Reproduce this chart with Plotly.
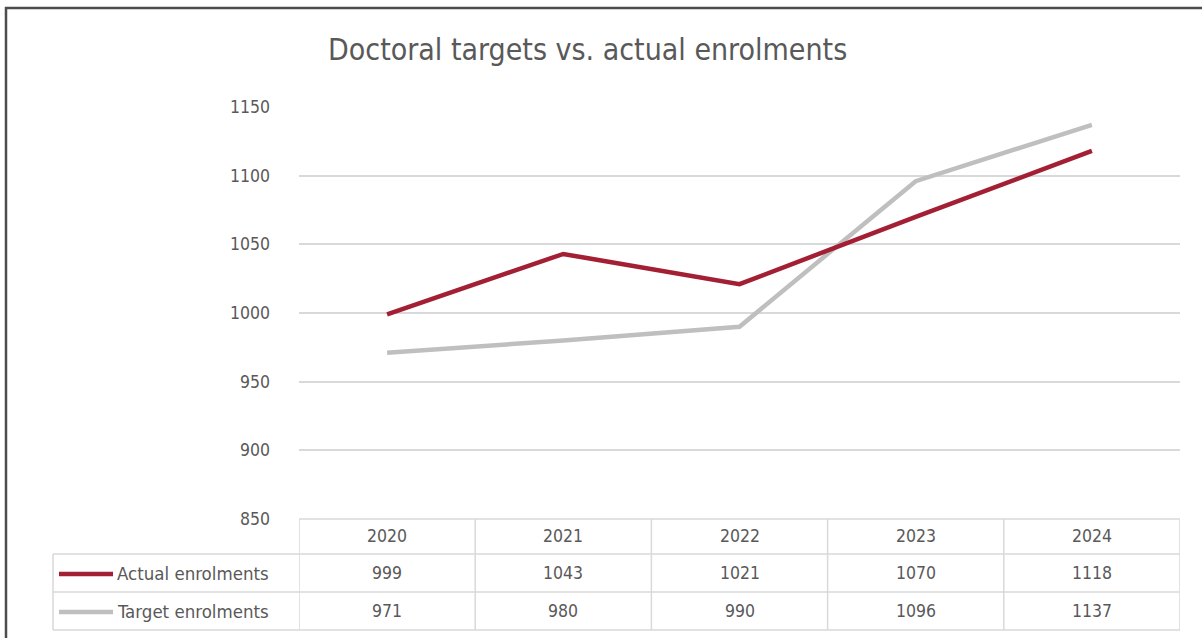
import plotly.graph_objects as go

years = ["2020", "2021", "2022", "2023", "2024"]
actual = [999, 1043, 1021, 1070, 1118]
target = [971, 980, 990, 1096, 1137]
series_names = ["Actual enrolments", "Target enrolments"]
series_colors = ["#A31F34", "#BFBFBF"]
y_ticks = [850, 900, 950, 1000, 1050, 1100, 1150]

W, H = 1202, 638
L, R, T, B = 299, 1180, 107, 519
pw, ph = R - L, B - T

def px_x(p):
    return (p - L) / pw

def px_y(p):
    return (B - p) / ph

FONT = "DejaVu Sans Condensed, Liberation Sans Narrow, Arial Narrow, sans-serif"
TXT = "#595959"
GRID = "#D9D9D9"

xs = list(range(len(years)))
fig = go.Figure()
for name, vals, col in [(series_names[1], target, series_colors[1]),
                        (series_names[0], actual, series_colors[0])]:
    fig.add_trace(go.Scatter(x=xs, y=vals, mode="lines", name=name,
                             line=dict(color=col, width=4.5), showlegend=False,
                             hoverinfo="skip"))

shapes = []
ann = []

def text(x, y, s, size, xref="paper", xanchor="center"):
    ann.append(dict(x=x, y=y, xref=xref, yref="paper", text=s, showarrow=False,
                    xanchor=xanchor, yanchor="middle",
                    font=dict(family=FONT, size=size, color=TXT)))

row_top, row1, row2, row_bot = 519, 554, 592, 630
shapes.append(dict(type="line", xref="paper", yref="paper", x0=0, x1=1,
                   y0=px_y(row_top), y1=px_y(row_top), line=dict(color=GRID, width=1.5)))
for yy in [row1, row2, row_bot]:
    shapes.append(dict(type="line", xref="paper", yref="paper", x0=px_x(53), x1=1,
                       y0=px_y(yy), y1=px_y(yy), line=dict(color=GRID, width=1.5)))
for i in range(len(years) + 1):
    xb = i - 0.5
    shapes.append(dict(type="line", xref="x", yref="paper", x0=xb, x1=xb,
                       y0=px_y(row_top), y1=px_y(row_bot), line=dict(color=GRID, width=1.5)))
shapes.append(dict(type="line", xref="paper", yref="paper", x0=px_x(53), x1=px_x(53),
                   y0=px_y(row1), y1=px_y(row_bot), line=dict(color=GRID, width=1.5)))

for i, yr in enumerate(years):
    text(i, px_y(536), yr, 17.5, xref="x")
for r, (name, vals, col) in enumerate([(series_names[0], actual, series_colors[0]),
                                       (series_names[1], target, series_colors[1])]):
    yc = [573, 611][r]
    for i, v in enumerate(vals):
        text(i, px_y(yc), str(v), 17.5, xref="x")
    text(px_x(115), px_y(yc), name, 18.5, xanchor="left")
    shapes.append(dict(type="line", xref="paper", yref="paper", x0=px_x(59), x1=px_x(113),
                       y0=px_y(yc + 1), y1=px_y(yc + 1), line=dict(color=col, width=4.5)))

shapes.append(dict(type="line", xref="paper", yref="paper", x0=px_x(6), x1=px_x(6),
                   y0=px_y(7), y1=px_y(640), line=dict(color="#4D4D4D", width=2.5)))
shapes.append(dict(type="line", xref="paper", yref="paper", x0=px_x(5), x1=px_x(1204),
                   y0=px_y(8), y1=px_y(8), line=dict(color="#4D4D4D", width=2.5)))

text(px_x(587), px_y(50), "Doctoral targets vs. actual enrolments", 30)

fig.update_layout(
    width=W, height=H,
    margin=dict(l=L, r=W - R, t=T, b=H - B, pad=0),
    paper_bgcolor="white", plot_bgcolor="white",
    shapes=shapes, annotations=ann,
    xaxis=dict(range=[-0.5, len(years) - 0.5], showticklabels=False, showgrid=False,
               zeroline=False, showline=False, fixedrange=True),
    yaxis=dict(range=[850, 1150], tickvals=y_ticks, showgrid=True, gridcolor=GRID,
               gridwidth=1.5, zeroline=False, showline=False, ticks="",
               ticklabelstandoff=28,
               tickfont=dict(family=FONT, size=17.5, color=TXT), fixedrange=True),
)

fig.write_html("out.html", config={"displayModeBar": False},
               post_script="document.body.style.margin='0';document.body.style.overflow='hidden';")
